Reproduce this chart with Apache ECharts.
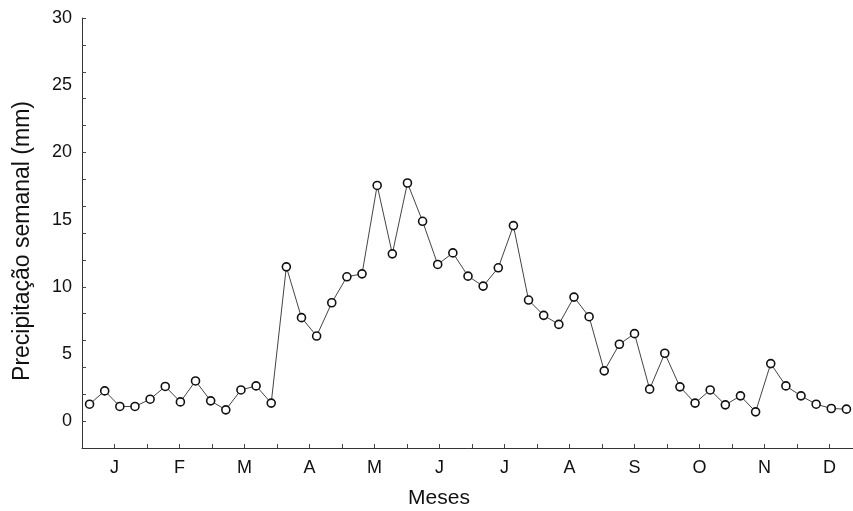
<!DOCTYPE html>
<html>
<head>
<meta charset="utf-8">
<script src="https://cdn.jsdelivr.net/npm/echarts@6/dist/echarts.min.js"></script>
<style>
html,body{margin:0;padding:0;background:#fff;}
#chart{width:853px;height:511px;}
</style>
</head>
<body>
<div id="chart"></div>
<script>
// Weekly precipitation (mm), one value per week
const weeks = ['1','2','3','4','5','6','7','8','9','10','11','12','13','14','15','16','17','18','19','20','21','22','23','24','25','26','27','28','29','30','31','32','33','34','35','36','37','38','39','40','41','42','43','44','45','46','47','48','49','50','51'];
const precipitation = [1.26, 2.25, 1.09, 1.09, 1.63, 2.58, 1.43, 2.99, 1.51, 0.84, 2.32, 2.62, 1.34,
  11.48, 7.70, 6.33, 8.81, 10.74, 10.96, 17.54, 12.45, 17.72, 14.87, 11.66, 12.52, 10.79,
  10.05, 11.41, 14.55, 9.01, 7.87, 7.20, 9.23, 7.77, 3.74, 5.72, 6.51, 2.38, 5.05,
  2.55, 1.34, 2.32, 1.21, 1.88, 0.69, 4.28, 2.62, 1.88, 1.26, 0.94, 0.89];
const monthLabels = ['J','F','M','A','M','J','J','A','S','O','N','D'];
const monthPositions = [0,1,2,3,4,5,6,7,8,9,10,11];
const monthTicks = [0,0.5,1,1.5,2,2.5,3,3.5,4,4.5,5,5.5,6,6.5,7,7.5,8,8.5,9,9.5,10,10.5,11];
const yLabels = [0,5,10,15,20,25,30];
const yTicks = [0,2,4,6,8,10,12,14,16,18,20,22,24,26,28,30];

const chart = echarts.init(document.getElementById('chart'));
const font = 'Liberation Sans, Arial, sans-serif';
chart.setOption({
  backgroundColor: '#ffffff',
  animation: false,
  grid: {left: 82, top: 18, width: 772, height: 430, containLabel: false, outerBoundsMode: 'none'},
  xAxis: [
    {
      type: 'category', data: weeks, boundaryGap: true, show: false
    },
    {
      type: 'value', min: -0.5, max: -0.5 + 772 / 65, position: 'bottom',
      name: 'Meses', nameLocation: 'middle', nameGap: 40,
      nameTextStyle: {fontFamily: font, fontSize: 21, color: '#111', padding: [0, 58, 0, 0]},
      axisLine: {show: true, onZero: false, lineStyle: {color: '#333', width: 1}},
      axisTick: {show: true, inside: true, length: 4, lineStyle: {color: '#444'}, customValues: monthTicks},
      axisLabel: {
        show: true, fontFamily: font, fontSize: 18, color: '#111', margin: 11,
        customValues: monthPositions,
        formatter: function (v) { return monthLabels[Math.round(v)] || ''; }
      },
      splitLine: {show: false}
    }
  ],
  yAxis: {
    type: 'value', min: -2, max: 30,
    name: 'Precipitação semanal (mm)', nameLocation: 'middle', nameGap: 48, nameRotate: 90,
    nameTextStyle: {fontFamily: font, fontSize: 23, color: '#111', padding: [0, 16, 0, 0]},
    axisLine: {show: true, onZero: false, lineStyle: {color: '#333', width: 1}},
    axisTick: {show: true, inside: true, length: 4, lineStyle: {color: '#444'}, customValues: yTicks},
    axisLabel: {show: true, fontFamily: font, fontSize: 18, color: '#111', margin: 10, customValues: yLabels},
    splitLine: {show: false}
  },
  series: [{
    type: 'line',
    xAxisIndex: 0,
    data: precipitation,
    symbol: 'circle',
    symbolSize: 8,
    showAllSymbol: true,
    lineStyle: {color: '#444', width: 1},
    itemStyle: {color: '#ffffff', borderColor: '#111', borderWidth: 1.6},
    z: 3
  }]
});
</script>
</body>
</html>
